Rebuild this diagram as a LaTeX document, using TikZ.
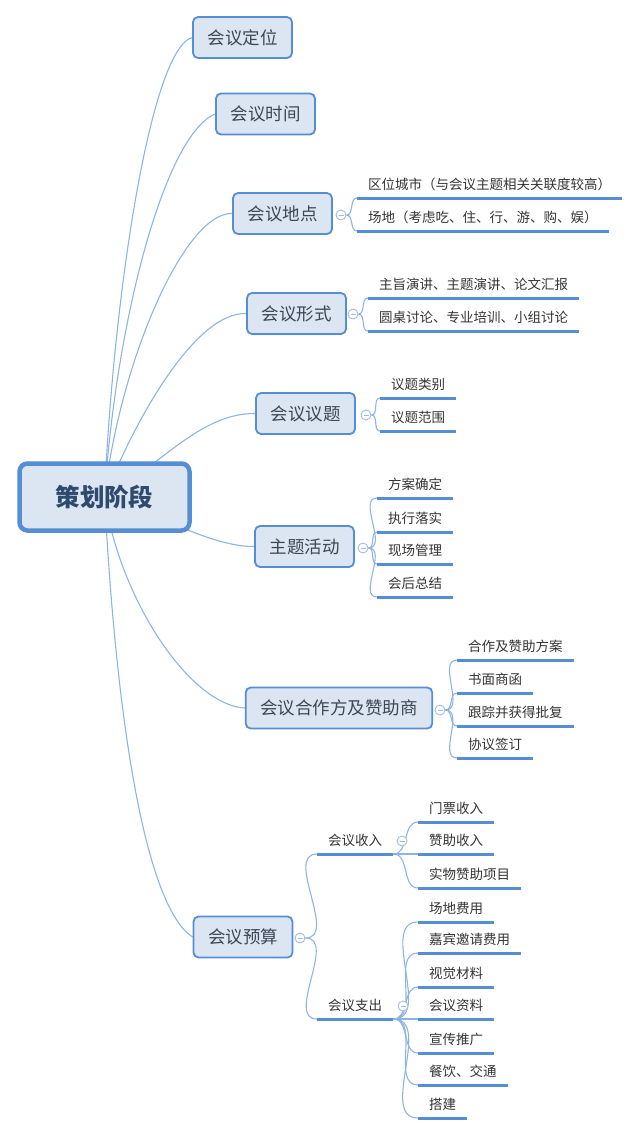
\documentclass[tikz,border=0pt]{standalone}
\usepackage{fontspec}
\newfontfamily\cjk{Noto Sans CJK SC}
\usetikzlibrary{backgrounds}
\definecolor{boxfill}{HTML}{DCE6F2}
\definecolor{boxline}{HTML}{558ED5}
\definecolor{linkblue}{HTML}{8DB4E2}
\definecolor{foldline}{HTML}{A3BDE0}
\definecolor{roottext}{HTML}{2E4A6E}
\definecolor{boxtext}{HTML}{3D4654}
\definecolor{leaftext}{HTML}{333333}

\begin{document}
\begin{tikzpicture}[x=1pt,y=-1pt,
  rootbox/.style={draw=boxline,line width=4.5pt,fill=boxfill,rounded corners=8pt,minimum width=170pt,minimum height=67pt,font=\cjk\bfseries\fontsize{24.5}{28}\selectfont,text=roottext},
  topic/.style={draw=boxline,line width=1.8pt,fill=boxfill,rounded corners=5pt,minimum height=41pt,inner xsep=14.5pt,font=\cjk\fontsize{17.5}{20}\selectfont,text=boxtext},
  leaf/.style={anchor=south west,inner xsep=11pt,inner ysep=5pt,text height=10pt,text depth=3pt,font=\cjk\fontsize{13.5}{16}\selectfont,text=leaftext},
  uline/.style={draw=boxline,line width=3pt},
  link/.style={draw=linkblue,line width=1.1pt},
  fold/.style={circle,draw=foldline,fill=white,line width=0.9pt,minimum size=10pt,inner sep=0pt,
    path picture={\draw[foldline,line width=0.9pt] ([xshift=-2.5pt]path picture bounding box.center)--([xshift=2.5pt]path picture bounding box.center);}}]
\useasboundingbox (0,0) rectangle (640,1136);

% root and main topics
\node[rootbox] (root) at (104.5,497) {策划阶段};
\node[topic] (t1) at (242.5,37.5) {会议定位};
\node[topic] (t2) at (265.5,114) {会议时间};
\node[topic] (t3) at (282.5,213.5) {会议地点};
\node[topic] (t4) at (296.5,313.5) {会议形式};
\node[topic] (t5) at (305.5,413.5) {会议议题};
\node[topic] (t6) at (304.5,546.5) {主题活动};
\node[topic] (t7) at (339,708) {会议合作方及赞助商};
\node[topic] (t8) at (243,937) {会议预算};

% fold markers
\node[fold] (f3) at (341,215) {};
\node[fold] (f4) at (353,314) {};
\node[fold] (f5) at (366,415) {};
\node[fold] (f6) at (363,548) {};
\node[fold] (f7) at (440,710) {};
\node[fold] (f8) at (300,938) {};
\node[fold] (fin) at (402,841) {};
\node[fold] (fout) at (403,1006) {};

% leaves
\node[leaf] (t3a) at (357,198) {区位城市（与会议主题相关关联度较高）};
\node[leaf] (t3b) at (357,231) {场地（考虑吃、住、行、游、购、娱）};
\node[leaf] (t4a) at (368,298) {主旨演讲、主题演讲、论文汇报};
\node[leaf] (t4b) at (368,331) {圆桌讨论、专业培训、小组讨论};
\node[leaf] (t5a) at (380,398) {议题类别};
\node[leaf] (t5b) at (380,431) {议题范围};
\node[leaf] (t6a) at (377,498) {方案确定};
\node[leaf] (t6b) at (377,532) {执行落实};
\node[leaf] (t6c) at (377,564) {现场管理};
\node[leaf] (t6d) at (377,597) {会后总结};
\node[leaf] (t7a) at (457,660) {合作及赞助方案};
\node[leaf] (t7b) at (457,693) {书面商函};
\node[leaf] (t7c) at (457,726) {跟踪并获得批复};
\node[leaf] (t7d) at (457,758) {协议签订};
\node[leaf] (in) at (317,854) {会议收入};
\node[leaf] (out) at (317,1019) {会议支出};
\node[leaf] (in1) at (418,822) {门票收入};
\node[leaf] (in2) at (418,854) {赞助收入};
\node[leaf] (in3) at (418,888) {实物赞助项目};
\node[leaf] (out1) at (418,922) {场地费用};
\node[leaf] (out2) at (418,953) {嘉宾邀请费用};
\node[leaf] (out3) at (418,987) {视觉材料};
\node[leaf] (out4) at (418,1019) {会议资料};
\node[leaf] (out5) at (418,1053) {宣传推广};
\node[leaf] (out6) at (418,1085) {餐饮、交通};
\node[leaf] (out7) at (418,1118) {搭建};

\foreach \n in {t3a,t3b,t4a,t4b,t5a,t5b,t6a,t6b,t6c,t6d,t7a,t7b,t7c,t7d,in,out,in1,in2,in3,out1,out2,out3,out4,out5,out6,out7}
  \draw[uline] (\n.south west) -- (\n.south east);

\begin{scope}[on background layer]
% root to topics
\draw[link] (root.center) .. controls (113,300) and (150,50) .. (t1.west);
\draw[link] (root.center) .. controls (116,320) and (165,135) .. (t2.west);
\draw[link] (root.center) .. controls (120,360) and (185,212) .. (t3.west);
\draw[link] (root.center) .. controls (135,420) and (195,312) .. (t4.west);
\draw[link] (root.center) .. controls (160,466) and (200,413) .. (t5.west);
\draw[link] (root.center) .. controls (150,510) and (210,547) .. (t6.west);
\draw[link] (root.center) .. controls (120,600) and (190,705) .. (t7.west);
\draw[link] (root.center) .. controls (118,750) and (150,910) .. (t8.west);
% topics to leaves
\foreach \f/\n in {f3/t3a,f3/t3b,f4/t4a,f4/t4b,f5/t5a,f5/t5b,f6/t6a,f6/t6b,f6/t6c,f6/t6d,f7/t7a,f7/t7b,f7/t7c,f7/t7d,f8/in,f8/out}
  \draw[link] (\f.east) to[out=0,in=180] (\n.south west);
\foreach \n in {in1,in2,in3}
  \draw[link] (in.south east) to[out=0,in=180] (\n.south west);
\foreach \n in {out1,out2,out3,out4,out5,out6,out7}
  \draw[link] (out.south east) to[out=0,in=180] (\n.south west);
\end{scope}
\end{tikzpicture}
\end{document}
